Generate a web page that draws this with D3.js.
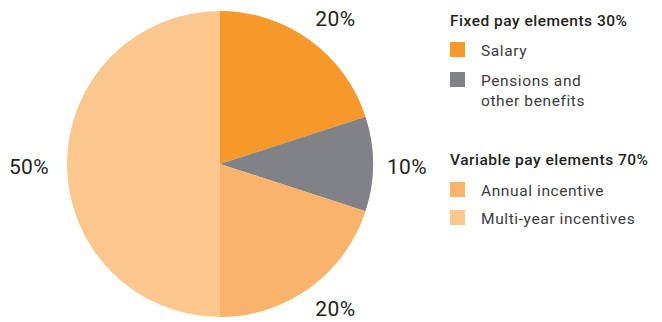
<!DOCTYPE html>
<html>
<head>
<meta charset="utf-8">
<script src="https://cdn.jsdelivr.net/npm/d3@7/dist/d3.min.js"></script>
<style>
  html, body { margin: 0; padding: 0; background: #ffffff; }
  svg { display: block; font-family: Roboto, "Open Sans", sans-serif; }
</style>
</head>
<body>
<svg id="chart" width="662" height="322"></svg>
<script>
// Remuneration mix: share of each pay element
const categories = ["Salary", "Pensions and other benefits", "Annual incentive", "Multi-year incentives"];
const shares = [20, 10, 20, 50];
const sliceColors = ["#F7982A", "#818286", "#F9B36B", "#FCC78D"];

// Legend groups
const groupTitles = ["Fixed pay elements 30%", "Variable pay elements 70%"];
const groupMembers = [[0, 1], [2, 3]];
const legendLines = [["Salary"], ["Pensions and", "other benefits"], ["Annual incentive"], ["Multi-year incentives"]];

const svg = d3.select("#chart");
const cx = 220, cy = 164, radius = 153;

const data = categories.map((c, i) => ({ name: c, value: shares[i], color: sliceColors[i] }));

const pie = d3.pie().value(d => d.value).sort(null);
const arcs = pie(data);
const arc = d3.arc().innerRadius(0).outerRadius(radius);

const g = svg.append("g").attr("transform", `translate(${cx},${cy})`);
g.selectAll("path.slice")
  .data(arcs)
  .join("path")
  .attr("class", "slice")
  .attr("d", arc)
  .attr("fill", d => d.data.color);

// Percentage labels outside each slice: side slices sit level with the centre,
// the two 20% slices get their label above / below the rim
g.selectAll("text.pct")
  .data(arcs)
  .join("text")
  .attr("class", "pct")
  .attr("x", d => {
    const mid = (d.startAngle + d.endAngle) / 2;
    const s = Math.sin(mid);
    if (Math.abs(s) > 0.99) return s > 0 ? radius + 34 : -radius - 38;
    return radius * 0.75 * Math.abs(s) + 48;
  })
  .attr("y", d => {
    const mid = (d.startAngle + d.endAngle) / 2;
    const c = Math.cos(mid);
    if (Math.abs(c) < 0.05) return 10;
    return c > 0 ? -138 : 152;
  })
  .attr("text-anchor", "middle")
  .attr("font-size", 21)
  .attr("letter-spacing", 0.4)
  .attr("fill", "#231F20")
  .text(d => d.data.value + "%");

// Legend
const legend = svg.append("g").attr("transform", "translate(450,0)");
const titleY = [26, 165];
const itemY = [[42, 72], [182, 210]];

groupTitles.forEach((t, gi) => {
  legend.append("text")
    .attr("x", 0)
    .attr("y", titleY[gi])
    .attr("font-size", 15.5)
    .attr("letter-spacing", 0.5)
    .attr("font-weight", 500)
    .attr("fill", "#231F20")
    .text(t);

  groupMembers[gi].forEach((idx, k) => {
    const y0 = itemY[gi][k];
    legend.append("rect")
      .attr("x", 0)
      .attr("y", y0)
      .attr("width", 15)
      .attr("height", 15)
      .attr("fill", sliceColors[idx]);
    const txt = legend.append("text")
      .attr("x", 31)
      .attr("y", y0 + 14)
      .attr("font-size", 15.5)
      .attr("letter-spacing", 0.6)
      .attr("fill", "#3C3C3E");
    legendLines[idx].forEach((line, li) => {
      txt.append("tspan")
        .attr("x", 31)
        .attr("dy", li === 0 ? 0 : 20)
        .text(line);
    });
  });
});
</script>
</body>
</html>
